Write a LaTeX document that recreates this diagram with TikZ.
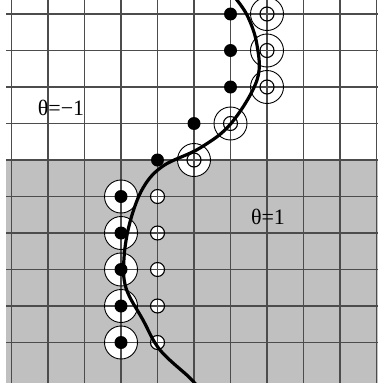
\documentclass[tikz,border=0pt]{standalone}
\usepackage{fontspec}
\setmainfont{Liberation Serif}
\begin{document}
\begin{tikzpicture}[x=1pt,y=-1pt,
  gridline/.style={draw=black!70,line width=1.1pt},
  bigring/.style={circle,draw=black,line width=0.9pt,minimum size=33pt,inner sep=0pt},
  smallring/.style={circle,draw=black,line width=1.1pt,minimum size=14pt,inner sep=0pt},
  blackdot/.style={circle,fill=black,minimum size=13pt,inner sep=0pt},
  label/.style={font=\fontsize{22}{26}\selectfont,inner sep=0pt}]
\useasboundingbox (0,0) rectangle (378,383);
% gray region
\fill[fill={rgb,255:red,192;green,192;blue,192}] (6,160) rectangle (378,383);
% white fills under the grid
\foreach \y in {196.5,233,269.5,306,342.5} {
  \fill[white] (121,\y) circle[radius=16.5];
  \fill[white] (157.5,\y) circle[radius=7];
}
\fill[white] (194,160) circle[radius=16.5];
% grid
\foreach \k in {0,...,10} {
  \draw[gridline] ({11.5+36.5*\k},0) -- ({11.5+36.5*\k},383);
}
\foreach \k in {0,...,9} {
  \draw[gridline] (6,{14+36.5*\k}) -- (378,{14+36.5*\k});
}
% upper column of rings with open centres
\node[bigring] (u0) at (267,14) {};
\node[smallring] (v0) at (267,14) {};
\node[bigring] (u1) at (267,50.5) {};
\node[smallring] (v1) at (267,50.5) {};
\node[bigring] (u2) at (267,87) {};
\node[smallring] (v2) at (267,87) {};
\node[bigring] (u3) at (230.5,123.5) {};
\node[smallring] (v3) at (230.5,123.5) {};
\node[bigring] (u4) at (194,160) {};
\node[smallring] (v4) at (194,160) {};
% upper black dots
\node[blackdot] (d0) at (230.5,14) {};
\node[blackdot] (d1) at (230.5,50.5) {};
\node[blackdot] (d2) at (230.5,87) {};
\node[blackdot] (d3) at (194,123.5) {};
\node[blackdot] (d4) at (157.5,160) {};
% lower rings with black centres
\node[bigring] (w5) at (121,196.5) {};
\node[blackdot] (b5) at (121,196.5) {};
\node[bigring] (w6) at (121,233) {};
\node[blackdot] (b6) at (121,233) {};
\node[bigring] (w7) at (121,269.5) {};
\node[blackdot] (b7) at (121,269.5) {};
\node[bigring] (w8) at (121,306) {};
\node[blackdot] (b8) at (121,306) {};
\node[bigring] (w9) at (121,342.5) {};
\node[blackdot] (b9) at (121,342.5) {};
% lower open circles
\node[smallring] (o5) at (157.5,196.5) {};
\node[smallring] (o6) at (157.5,233) {};
\node[smallring] (o7) at (157.5,269.5) {};
\node[smallring] (o8) at (157.5,306) {};
\node[smallring] (o9) at (157.5,342.5) {};
% interface curve
\draw[line width=3.2pt,line cap=round] plot[smooth,tension=0.6] coordinates {
  (232,-6) (247,15) (257,45) (257,80) (231,123.5) (200,148) (163,166)
  (143,188) (130,222) (124,258) (126,288) (143,320) (160,350) (190,378) (200,390)};
% labels
\node[label] (tm) at (61,108) {θ=−1};
\node[label] (tp) at (268,217) {θ=1};
\end{tikzpicture}
\end{document}
